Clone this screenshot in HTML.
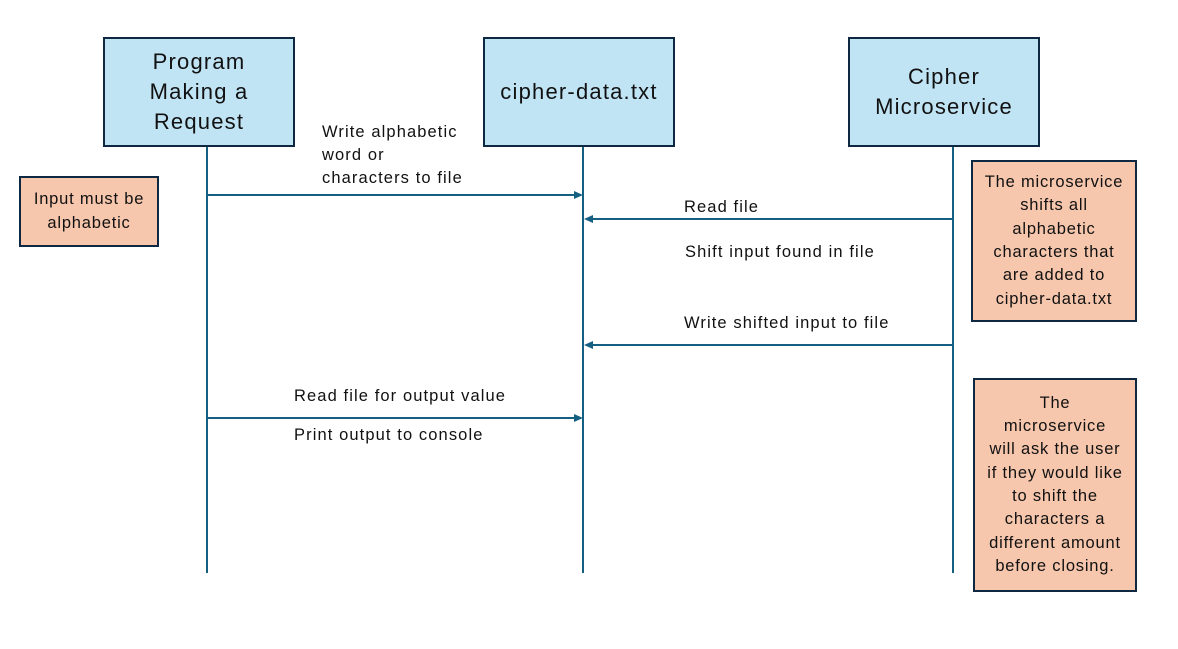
<!DOCTYPE html>
<html><head><meta charset="utf-8"><style>
html,body{margin:0;padding:0;background:#fff;}
body{width:1178px;height:649px;position:relative;overflow:hidden;font-family:"Liberation Sans",sans-serif;color:#111;}
.box{position:absolute;box-sizing:border-box;border:2px solid #0e2841;display:flex;align-items:center;justify-content:center;text-align:center;}
.blue{background:#c1e4f5;font-size:22px;line-height:30px;letter-spacing:1.2px;}
.org{background:#f6c6ad;font-size:16.5px;line-height:23.3px;letter-spacing:0.8px;white-space:nowrap;}
.lbl{position:absolute;font-size:16.5px;line-height:23px;white-space:nowrap;letter-spacing:1.1px;}
</style></head><body>
<svg width="1178" height="649" style="position:absolute;left:0;top:0">
<g stroke="#156082" stroke-width="2" fill="none">
<line x1="207" y1="146" x2="207" y2="573"/>
<line x1="583" y1="146" x2="583" y2="573"/>
<line x1="953" y1="146" x2="953" y2="573"/>
<line x1="207" y1="195" x2="576" y2="195"/>
<line x1="953" y1="219" x2="590" y2="219"/>
<line x1="953" y1="345" x2="590" y2="345"/>
<line x1="207" y1="418" x2="576" y2="418"/>
</g>
<g fill="#156082">
<polygon points="583,195 574,191 574,199"/>
<polygon points="584,219 593,215 593,223"/>
<polygon points="584,345 593,341 593,349"/>
<polygon points="583,418 574,414 574,422"/>
</g>
</svg>
<div class="box blue" style="left:103px;top:37px;width:192px;height:110px;">Program<br>Making a<br>Request</div>
<div class="box blue" style="left:483px;top:37px;width:192px;height:110px;">cipher-data.txt</div>
<div class="box blue" style="left:848px;top:37px;width:192px;height:110px;">Cipher<br>Microservice</div>
<div class="box org" style="left:19px;top:176px;width:140px;height:71px;">Input must be<br>alphabetic</div>
<div class="box org" style="left:971px;top:160px;width:166px;height:162px;">The microservice<br>shifts all<br>alphabetic<br>characters that<br>are added to<br>cipher-data.txt</div>
<div class="box org" style="left:973px;top:378px;width:164px;height:214px;">The<br>microservice<br>will ask the user<br>if they would like<br>to shift the<br>characters a<br>different amount<br>before closing.</div>
<div class="lbl" style="left:322px;top:121px;">Write alphabetic<br>word or<br>characters to file</div>
<div class="lbl" style="left:684px;top:196px;">Read file</div>
<div class="lbl" style="left:685px;top:241px;">Shift input found in file</div>
<div class="lbl" style="left:684px;top:312px;">Write shifted input to file</div>
<div class="lbl" style="left:294px;top:385px;">Read file for output value</div>
<div class="lbl" style="left:294px;top:424px;">Print output to console</div>
</body></html>
